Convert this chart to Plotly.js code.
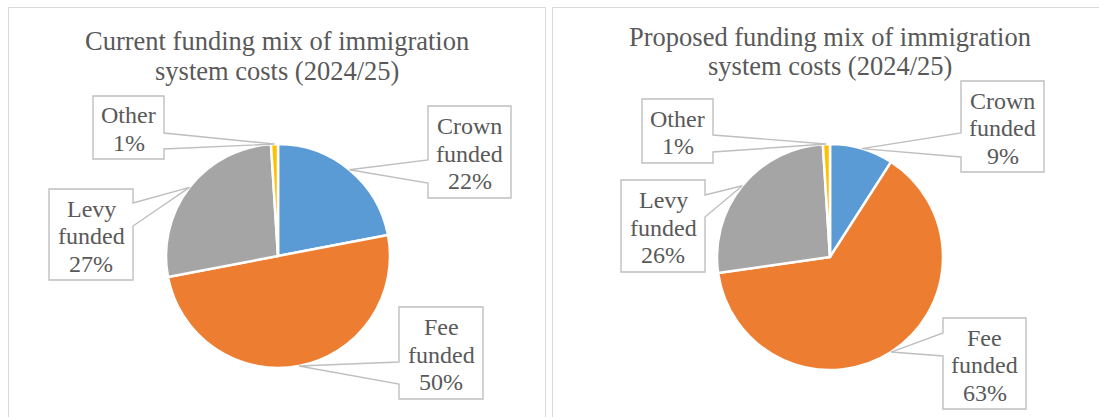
<!DOCTYPE html>
<html>
<head>
<meta charset="utf-8">
<script src="https://cdn.plot.ly/plotly-3.0.1.min.js"></script>
<style>html,body{margin:0;padding:0;background:#fff;}#chart{width:1099px;height:417px;}</style>
</head>
<body>
<div id="chart"></div>
<script>
// ---- data ----
const categories = ['Crown funded', 'Fee funded', 'Levy funded', 'Other'];
const currentValues = [22, 50, 27, 1];
const proposedValues = [9, 63, 26, 1];
const currentTitle = ['Current funding mix of immigration', 'system costs (2024/25)'];
const proposedTitle = ['Proposed funding mix of immigration', 'system costs (2024/25)'];
const sliceColors = ['#5B9BD5', '#ED7D31', '#A5A5A5', '#FFC000'];

// ---- layout geometry (pixels) ----
const W = 1099, H = 417;
const X = px => px / W;
const Y = py => 1 - py / H;

const panels = [
  {
    values: currentValues, title: currentTitle,
    cx: 278, cy: 256, r: 112,
    titleX: 277, titleBase: [50, 80],
    boxes: [
      {x0: 428, y0: 106, x1: 511, y1: 198, side: 'left',  b1: 160, b2: 183},
      {x0: 399, y0: 307, x1: 483, y1: 399, side: 'left',  b1: 362, b2: 384},
      {x0: 49,  y0: 189, x1: 133, y1: 280, side: 'right', b1: 203, b2: 226},
      {x0: 93,  y0: 96,  x1: 164, y1: 159, side: 'right', b1: 133, b2: 149}
    ]
  },
  {
    values: proposedValues, title: proposedTitle,
    cx: 830, cy: 257, r: 113,
    titleX: 830, titleBase: [46, 75],
    boxes: [
      {x0: 961, y0: 81,  x1: 1044, y1: 172, side: 'left',  b1: 133, b2: 157},
      {x0: 943, y0: 318, x1: 1026, y1: 409, side: 'left',  b1: 333, b2: 356},
      {x0: 621, y0: 180, x1: 705,  y1: 272, side: 'right', b1: 195, b2: 217},
      {x0: 642, y0: 99,  x1: 713,  y1: 163, side: 'right', b1: 135, b2: 152}
    ]
  }
];

const FONT = 'Times New Roman, Liberation Serif, serif';
const textColor = '#595959';
const traces = [];
const shapes = [];
const annotations = [];

// panel frames
shapes.push({type: 'rect', xref: 'paper', yref: 'paper', x0: X(8.5), x1: X(545.5), y0: Y(7.5), y1: Y(H + 5),
  line: {color: '#d9d9d9', width: 1}, layer: 'below'});
shapes.push({type: 'rect', xref: 'paper', yref: 'paper', x0: X(552.5), x1: X(W + 5), y0: Y(7.5), y1: Y(H + 5),
  line: {color: '#d9d9d9', width: 1}, layer: 'below'});

panels.forEach(p => {
  traces.push({
    type: 'pie',
    labels: categories,
    values: p.values,
    sort: false,
    direction: 'clockwise',
    rotation: 0,
    textinfo: 'none',
    hoverinfo: 'label+value',
    showlegend: false,
    marker: {colors: sliceColors, line: {color: '#ffffff', width: 2.5}},
    domain: {x: [X(p.cx - p.r), X(p.cx + p.r)], y: [Y(p.cy + p.r), Y(p.cy - p.r)]}
  });

  // title lines
  p.title.forEach((t, i) => {
    annotations.push({xref: 'paper', yref: 'paper', x: X(p.titleX), y: Y(p.titleBase[i] - 9),
      xanchor: 'center', yanchor: 'middle', showarrow: false, text: t,
      font: {family: FONT, size: 26.5, color: textColor}});
  });

  const total = p.values.reduce((a, b) => a + b, 0);
  let cum = 0;
  p.values.forEach((v, k) => {
    const theta = 2 * Math.PI * (cum + v / 2) / total;
    cum += v;
    const tx = p.cx + p.r * Math.sin(theta);
    const ty = p.cy - p.r * Math.cos(theta);
    const b = p.boxes[k];
    let d;
    if (b.side === 'left') {
      d = `M ${X(b.x0)},${Y(b.y0)} L ${X(b.x1)},${Y(b.y0)} L ${X(b.x1)},${Y(b.y1)} L ${X(b.x0)},${Y(b.y1)} ` +
          `L ${X(b.x0)},${Y(b.b2)} L ${X(tx)},${Y(ty)} L ${X(b.x0)},${Y(b.b1)} Z`;
    } else {
      d = `M ${X(b.x0)},${Y(b.y0)} L ${X(b.x1)},${Y(b.y0)} L ${X(b.x1)},${Y(b.b1)} L ${X(tx)},${Y(ty)} ` +
          `L ${X(b.x1)},${Y(b.b2)} L ${X(b.x1)},${Y(b.y1)} L ${X(b.x0)},${Y(b.y1)} Z`;
    }
    shapes.push({type: 'path', xref: 'paper', yref: 'paper', path: d,
      fillcolor: '#ffffff', line: {color: '#bfbfbf', width: 1.4}, layer: 'above'});

    const lines = categories[k].split(' ').concat([v + '%']);
    const n = lines.length;
    const bcx = (b.x0 + b.x1) / 2, bcy = (b.y0 + b.y1) / 2;
    lines.forEach((ln, i) => {
      annotations.push({xref: 'paper', yref: 'paper', x: X(bcx), y: Y(bcy + (i - (n - 1) / 2) * 27.5 + 1.6),
        xanchor: 'center', yanchor: 'middle', showarrow: false, text: ln,
        font: {family: FONT, size: 24, color: textColor}});
    });
  });
});

const layout = {
  width: W, height: H,
  margin: {l: 0, r: 0, t: 0, b: 0},
  paper_bgcolor: '#ffffff',
  plot_bgcolor: '#ffffff',
  font: {family: FONT},
  shapes: shapes,
  annotations: annotations
};

Plotly.newPlot('chart', traces, layout, {displayModeBar: false, staticPlot: true});
</script>
</body>
</html>
